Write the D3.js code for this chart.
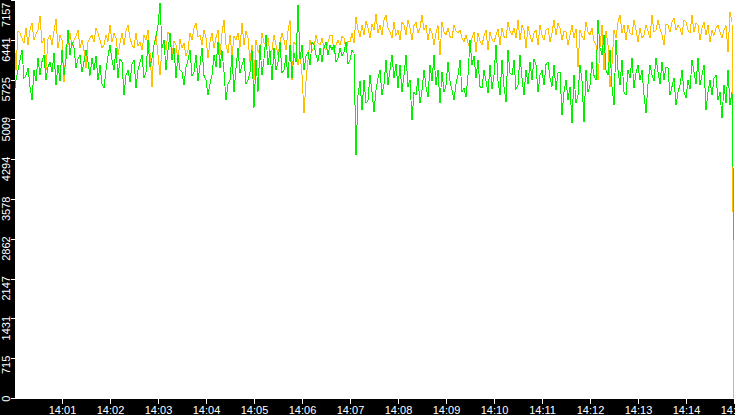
<!DOCTYPE html>
<html>
<head>
<meta charset="utf-8">
<script src="https://d3js.org/d3.v7.min.js"></script>
<style>
  body { margin: 0; background: #fff; overflow: hidden; }
  .axis text { fill: #fff; font-family: "Liberation Sans", Arial, sans-serif; }
  .axis line { stroke: #fff; shape-rendering: crispEdges; }
  .axis path { display: none; }
  .series { fill: none; stroke-width: 1; shape-rendering: crispEdges; }
</style>
</head>
<body>
<div id="chart"></div>
<script>
var svgWidth = 735;
var svgHeight = 415;

// plot box (black strips on the left and at the bottom)
var plot = { left: 15, top: 0, right: 735, bottom: 399 };

// time span of the samples, one sample every 2.5 s
var startTime = new Date(2020, 0, 1, 14, 0, 0);
var endTime = new Date(2020, 0, 1, 14, 15, 0);

// yellow series
var yellowValues = [
  6526, 5896, 6600, 6562, 6472, 6380, 6652, 6346, 6620, 6742, 6436, 6550,
  6616, 6868, 6380, 6472, 5896, 6450, 6526, 6346, 6590, 6814, 6292, 6520,
  6436, 5680, 6300, 6346, 6562, 6330, 6436, 6508, 6620, 6292, 6436, 6250,
  5932, 6400, 6480, 6526, 6400, 6650, 6562, 6436, 6300, 6346, 6526, 6410,
  6706, 6400, 6560, 6472, 6166, 6380, 6562, 6346, 6600, 6706, 6472, 6350,
  6292, 6562, 6330, 6400, 6256, 6520, 6436, 6616, 6200, 5590, 6346, 6520,
  6166, 5806, 6300, 6436, 6256, 6580, 6526, 6166, 6420, 6346, 6076, 6450,
  6292, 6382, 6150, 6256, 6562, 6440, 6652, 6742, 6500, 6526, 6346, 6620,
  6472, 6112, 6400, 6562, 6292, 6480, 6616, 6166, 6560, 6796, 6346, 6200,
  6526, 6166, 6500, 6436, 6562, 6300, 6742, 6346, 6600, 6472, 6040, 6350,
  5716, 6436, 6250, 6166, 6562, 6380, 6346, 6472, 6200, 6256, 6526, 6350,
  6166, 6400, 6560, 6436, 6256, 6600, 6796, 5716, 6400, 6346, 5986, 6200,
  5806, 5122, 5700, 6076, 6436, 6250, 6292, 6526, 6380, 6346, 6472, 6300,
  6256, 6400, 6520, 6526, 6220, 6350, 6436, 6346, 6500, 6472, 6256, 6420,
  6400, 6562, 6380, 6850, 6616, 6500, 6706, 6526, 6780, 6652, 6472, 6720,
  6616, 6904, 6560, 6706, 6526, 6800, 6886, 6652, 6580, 6472, 6760, 6520,
  6616, 6436, 6760, 6706, 6526, 6800, 6652, 6436, 6700, 6760, 6562, 6650,
  6886, 6616, 6700, 6436, 6652, 6560, 6346, 6562, 6700, 6166, 6760, 6580,
  6526, 6652, 6500, 6472, 6706, 6600, 6562, 6616, 6480, 6400, 6526, 6380,
  6292, 6472, 6580, 6220, 6562, 6420, 6346, 6508, 6620, 6256, 6580, 6450,
  6400, 6526, 6640, 6346, 6652, 6500, 6472, 6760, 6600, 6526, 6652, 6480,
  6796, 6436, 6700, 6616, 6292, 6680, 6526, 6400, 6560, 6616, 6346, 6700,
  6526, 6436, 6620, 6652, 6400, 6560, 6796, 6526, 6740, 6652, 6436, 6600,
  6580, 6346, 6520, 6706, 6472, 6640, 5950, 6616, 6500, 6436, 6760, 6580,
  6526, 6652, 6420, 6346, 5716, 6300, 6706, 5896, 6600, 6346, 5590, 6000,
  6616, 6472, 6760, 6886, 6562, 6700, 6436, 6706, 6560, 6526, 6796, 6620,
  6400, 6652, 6480, 6526, 6706, 6600, 6472, 6886, 6580, 6616, 6796, 6640,
  6526, 6346, 6720, 6706, 6580, 6760, 6832, 6616, 6700, 6652, 6526, 6800,
  6760, 6616, 6560, 6886, 6580, 6740, 6706, 6436, 6650, 6760, 6526, 6700,
  6400, 6616, 6520, 6652, 6706, 6580, 6472, 6616, 6700, 6220, 6940, 6760,
  0
];

// green series
var greenValues = [
  5446, 5716, 5900, 6076, 6256, 5750, 5806, 5932, 5600, 5356, 5896, 5700,
  6112, 5806, 6050, 6166, 5716, 5950, 6040, 5860, 6200, 5626, 5986, 5700,
  6256, 5806, 6100, 6616, 6166, 6400, 6292, 5932, 6100, 6166, 5860, 6050,
  6256, 6040, 5800, 6112, 5896, 6150, 5716, 5986, 5650, 5572, 5896, 6150,
  6346, 6076, 5900, 6292, 5752, 6100, 6040, 5446, 5800, 5896, 5680, 6000,
  6076, 5572, 5900, 6040, 6166, 5750, 5860, 6436, 5950, 6112, 6346, 6500,
  6706, 7102, 6300, 6436, 5896, 6250, 6562, 6076, 6300, 5752, 6166, 5900,
  5860, 5626, 5950, 6076, 6256, 5800, 5860, 6166, 5700, 5986, 6292, 5800,
  5716, 5446, 5650, 5806, 6166, 5950, 6400, 5932, 6250, 5860, 5356, 5650,
  5716, 6166, 5500, 5932, 6292, 5850, 5986, 6112, 5650, 5716, 5860, 6250,
  5212, 6076, 5500, 6346, 5806, 6100, 6526, 5986, 6250, 5716, 6292, 5900,
  6040, 6400, 5850, 5896, 6166, 5750, 6346, 5752, 6200, 6040, 7066, 6100,
  6346, 5896, 6150, 6220, 5986, 6400, 6346, 6166, 6050, 6292, 6040, 6300,
  6400, 6166, 6350, 6256, 6346, 6050, 6112, 6292, 6150, 6220, 6400, 6000,
  6076, 6256, 6200, 4366, 5446, 5700, 5176, 5716, 5300, 5356, 5806, 5500,
  5140, 5536, 5750, 5896, 5446, 5650, 6076, 5626, 5900, 6166, 5752, 6000,
  5572, 5986, 5500, 5806, 6166, 5600, 5716, 4996, 5500, 5446, 5752, 5300,
  5536, 5896, 5600, 5410, 5986, 5700, 6166, 5626, 5900, 5302, 5860, 5500,
  5626, 6040, 5700, 5536, 5356, 5650, 5806, 6076, 5500, 5572, 5410, 5800,
  6436, 5986, 6150, 5752, 6076, 5600, 5572, 5896, 5700, 5482, 5986, 5550,
  5806, 6346, 5700, 5446, 6076, 5600, 5320, 6256, 5850, 5806, 6076, 5550,
  5626, 6166, 5750, 5446, 5896, 5650, 6040, 5716, 6100, 5986, 5500, 5800,
  5896, 5626, 6000, 6040, 5752, 5600, 5986, 5536, 5850, 5860, 5086, 5500,
  5716, 5356, 5600, 4942, 5806, 5300, 5446, 5986, 5700, 4960, 5896, 5500,
  5626, 6040, 5800, 5716, 6796, 6300, 6166, 6526, 5900, 5806, 6256, 5600,
  5266, 6436, 5900, 5626, 6076, 5500, 5446, 5896, 5750, 6112, 5572, 5850,
  5986, 5716, 5900, 5446, 5122, 5650, 5986, 5806, 5700, 6112, 5860, 5650,
  6040, 5716, 5950, 5932, 5446, 5600, 5752, 5266, 5500, 5626, 5896, 5500,
  5392, 5716, 5550, 6076, 5860, 5650, 6112, 5626, 5800, 5986, 5176, 5500,
  5716, 5446, 5750, 5806, 5356, 5500, 5032, 5626, 5300, 5896, 5266, 5500,
  2836
];

// tick values / labels
var yTickValues = [0, 715, 1431, 2147, 2862, 3578, 4294, 5009, 5725, 6441, 7157];
var yMax = 7157;
var xTickLabels = ["14:01", "14:02", "14:03", "14:04", "14:05", "14:06", "14:07", "14:08",
  "14:09", "14:10", "14:11", "14:12", "14:13", "14:14", "14:15"];

var sampleStep = (endTime - startTime) / (yellowValues.length - 1);
var sampleTimes = yellowValues.map((d, i) => new Date(+startTime + i * sampleStep));

var svg = d3.select("#chart")
  .append("svg")
  .attr("width", svgWidth)
  .attr("height", svgHeight)
  .style("display", "block");

// white plot background
svg.append("rect")
  .attr("width", svgWidth)
  .attr("height", svgHeight)
  .attr("fill", "#fff");

svg.append("defs").append("clipPath")
  .attr("id", "plotClip")
  .append("rect")
  .attr("x", plot.left)
  .attr("y", plot.top)
  .attr("width", plot.right - plot.left)
  .attr("height", plot.bottom - plot.top);

// scales
var xTimeScale = d3.scaleTime()
  .domain([startTime, endTime])
  .range([14, 734]);

var yLinearScale = d3.scaleLinear()
  .domain([0, yMax])
  .range([398, 0]);

// lines
var lineGen = d3.line()
  .x((d, i) => xTimeScale(sampleTimes[i]))
  .y(d => yLinearScale(d));

var lineGroup = svg.append("g")
  .attr("clip-path", "url(#plotClip)");

lineGroup.append("path")
  .datum(yellowValues)
  .attr("class", "series")
  .attr("stroke", "#ffbf00")
  .attr("d", lineGen);

lineGroup.append("path")
  .datum(greenValues)
  .attr("class", "series")
  .attr("stroke", "#00f000")
  .attr("d", lineGen);

// black strips
svg.append("rect")
  .attr("x", 0).attr("y", 0)
  .attr("width", plot.left).attr("height", svgHeight)
  .attr("fill", "#000");

svg.append("rect")
  .attr("x", 0).attr("y", plot.bottom)
  .attr("width", svgWidth).attr("height", svgHeight - plot.bottom)
  .attr("fill", "#000");

// x axis
var parseMinute = d3.timeParse("%H:%M");
var xTickDates = xTickLabels.map(s => {
  var t = parseMinute(s);
  return new Date(2020, 0, 1, t.getHours(), t.getMinutes(), 0);
});

var bottomAxis = d3.axisBottom(xTimeScale)
  .tickValues(xTickDates)
  .tickFormat(d3.timeFormat("%H:%M"))
  .tickSizeInner(5)
  .tickSizeOuter(0);

var xAxis = svg.append("g")
  .attr("class", "axis")
  .attr("transform", `translate(0, ${plot.bottom})`)
  .call(bottomAxis);

xAxis.selectAll("text")
  .attr("y", 7)
  .style("font-size", "11px");

// y axis, labels turned on their side
var leftAxis = d3.axisLeft(yLinearScale)
  .tickValues(yTickValues)
  .tickFormat(d => d)
  .tickSizeInner(4)
  .tickSizeOuter(0);

var yAxis = svg.append("g")
  .attr("class", "axis")
  .attr("transform", `translate(${plot.left}, 0)`)
  .call(leftAxis);

yAxis.selectAll("text")
  .attr("transform", "rotate(-90)")
  .attr("text-anchor", "end")
  .attr("dy", 0)
  .attr("y", -5)
  .attr("x", d => {
    var ty = yLinearScale(d);
    var endY = Math.max(ty - 3, 2);
    return ty - endY;
  })
  .style("font-size", "11px");
</script>
</body>
</html>
